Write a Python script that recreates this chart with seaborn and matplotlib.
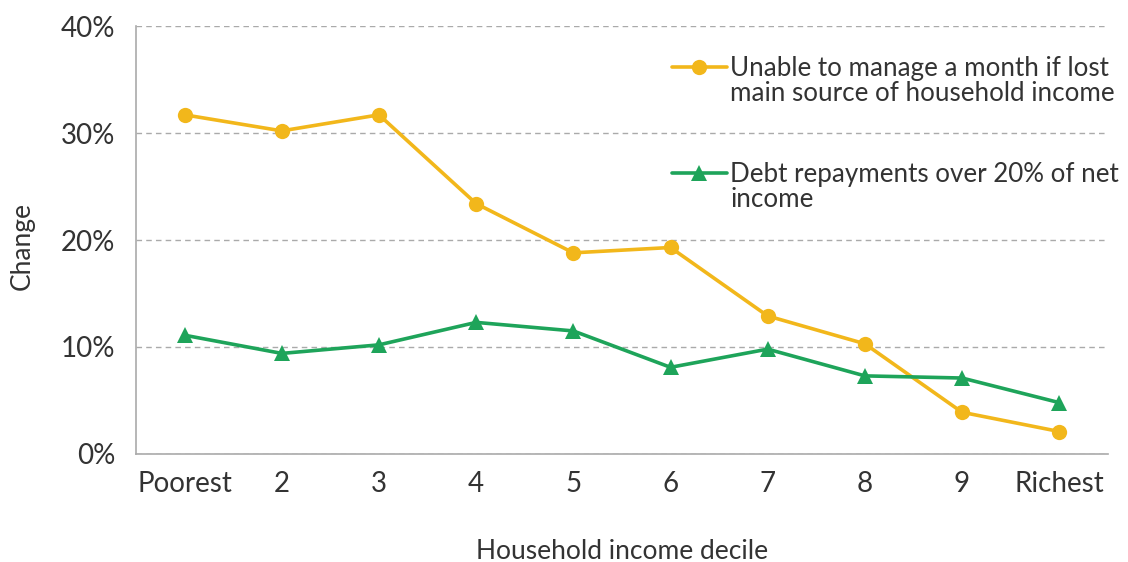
import matplotlib
matplotlib.use("Agg")
import matplotlib.pyplot as plt
import seaborn as sns
import pandas as pd
from matplotlib.lines import Line2D
from matplotlib.ticker import FuncFormatter

deciles = ["Poorest", "2", "3", "4", "5", "6", "7", "8", "9", "Richest"]
unable_month = [31.7, 30.2, 31.7, 23.4, 18.8, 19.3, 12.9, 10.3, 3.9, 2.1]
debt_repay = [11.1, 9.4, 10.2, 12.3, 11.5, 8.1, 9.8, 7.3, 7.1, 4.8]
series_names = ["Unable to manage a month if lost main source of household income",
                "Debt repayments over 20% of net income"]
legend_lines = [["Unable to manage a month if lost", "main source of household income"],
                ["Debt repayments over 20% of net", "income"]]
colors = ["#F2B71B", "#1EA45A"]
markers = ["o", "^"]

sns.set_theme(style="white")
plt.rcParams['font.family'] = ['Lato', 'DejaVu Sans']

df = pd.DataFrame({
    "decile": deciles * 2,
    "value": unable_month + debt_repay,
    "series": [series_names[0]] * len(deciles) + [series_names[1]] * len(deciles),
})

fig = plt.figure(figsize=(11.28, 5.62), dpi=100)
ax = fig.add_axes([0.1206, 0.1922, 0.8615, 0.7615])

sns.lineplot(data=df, x="decile", y="value", hue="series", style="series",
             palette=colors, markers=markers, dashes=False, sort=False,
             linewidth=2.6, markersize=11, markeredgewidth=0, ax=ax)

handles, labels = ax.get_legend_handles_labels()
ax.get_legend().remove()

ax.set_xlim(-0.5, 9.5)
ax.set_ylim(0, 40)
ax.set_yticks([0, 10, 20, 30, 40])
ax.yaxis.set_major_formatter(FuncFormatter(lambda v, p: f"{v:.0f}%"))
ax.grid(axis="y", color="#aaaaaa", linestyle=(0, (4, 3)), linewidth=1.0)
ax.set_axisbelow(True)
for s in ["top", "right"]:
    ax.spines[s].set_visible(False)
for s in ["left", "bottom"]:
    ax.spines[s].set_color("#aaaaaa")
    ax.spines[s].set_linewidth(1.2)
ax.tick_params(axis="both", length=0, labelsize=20, colors="#333333", pad=12)
ax.tick_params(axis="y", pad=15)
ax.set_xlabel("Household income decile", fontsize=19, color="#333333")
ax.set_ylabel("Change", fontsize=19, color="#333333")
ax.xaxis.set_label_coords(0.5, -0.198)
ax.yaxis.set_label_coords(-0.104, 0.485)

blank = Line2D([], [], color="none")
leg_handles = [handles[0], blank, blank, blank, handles[1], blank]
leg_labels = [legend_lines[0][0], legend_lines[0][1], " ", " ",
              legend_lines[1][0], legend_lines[1][1]]
leg = fig.legend(leg_handles, leg_labels, loc="upper left",
                 bbox_to_anchor=(672 / 1128, 1 - 56 / 562), frameon=False,
                 fontsize=18.7, labelspacing=0.0, handlelength=2.1,
                 handletextpad=0.15, borderpad=0, borderaxespad=0,
                 labelcolor="#333333")
for i in (2, 3):
    leg.get_texts()[i].set_fontsize(22)

fig.savefig("out.png", dpi=100)
